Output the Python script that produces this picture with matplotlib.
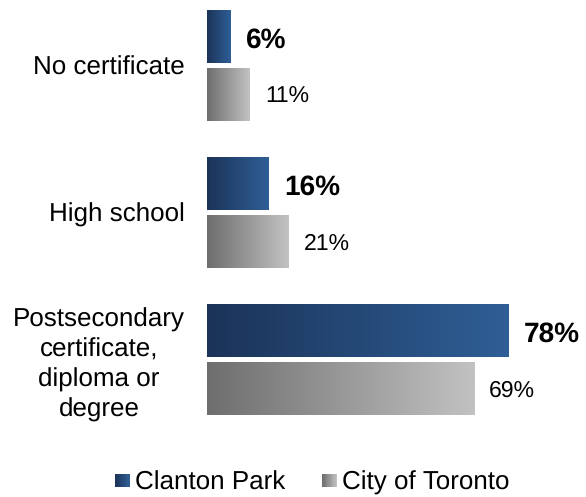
import numpy as np
import matplotlib
matplotlib.use("Agg")
import matplotlib.pyplot as plt
from matplotlib.colors import LinearSegmentedColormap
from matplotlib.legend_handler import HandlerBase
from matplotlib.patches import Rectangle, Patch

plt.rcParams['font.family'] = ['Liberation Sans', 'DejaVu Sans']
plt.rcParams['text.hinting'] = 'no_hinting'
plt.rcParams['text.hinting_factor'] = 1

categories = ["No certificate", "High school",
              "Postsecondary\ncertificate,\ndiploma or\ndegree"]
clanton = [6, 16, 78]
toronto = [11, 21, 69]
series_names = ["Clanton Park", "City of Toronto"]

blue_cols = ["#1b3358", "#2f5f96"]
gray_cols = ["#6e6e6e", "#c2c2c2"]
cmap_blue = LinearSegmentedColormap.from_list("b", blue_cols)
cmap_gray = LinearSegmentedColormap.from_list("g", gray_cols)

W, H = 586, 497
fig = plt.figure(figsize=(W / 100, H / 100), dpi=100)
ax = fig.add_axes([207 / W, (497 - 433) / H, 379 / W, 433 / H])

y = np.arange(len(categories))
off = 0.197
bh = 0.36
bars_b = ax.barh(y - off, clanton, height=bh, color=blue_cols[1], edgecolor='none')
bars_g = ax.barh(y + off, toronto, height=bh, color=gray_cols[1], edgecolor='none')

grad = np.linspace(0, 1, 256).reshape(1, -1)
for bars, cm in ((bars_b, cmap_blue), (bars_g, cmap_gray)):
    for r in bars:
        x0, y0, w, h = r.get_x(), r.get_y(), r.get_width(), r.get_height()
        ax.imshow(grad, extent=[x0, x0 + w, y0, y0 + h], aspect='auto',
                  cmap=cm, zorder=3, interpolation='bilinear')

for r, v in zip(bars_b, clanton):
    ax.annotate(f"{v}%", (r.get_width(), r.get_y() + r.get_height() / 2),
                xytext=(11, -2.6), textcoords='offset points', va='center',
                ha='left', fontsize=20, fontweight='bold', color='black')
for r, v in zip(bars_g, toronto):
    ax.annotate(f"{v}%", (r.get_width(), r.get_y() + r.get_height() / 2),
                xytext=(11, -1.8), textcoords='offset points', va='center',
                ha='left', fontsize=16.5, color='black')

ax.set_xlim(0, 379 / 3.87)
ax.set_ylim(2.5, -0.4456)
ax.set_yticks(y)
ax.set_yticklabels(categories, fontsize=18.7, ma='center', linespacing=1.29)
ax.tick_params(axis='y', length=0, pad=15.8)
ax.set_xticks([])
for s in ax.spines.values():
    s.set_visible(False)


class GradHandler(HandlerBase):
    def __init__(self, cols):
        super().__init__()
        self.cols = cols

    def create_artists(self, legend, orig_handle, xdescent, ydescent,
                       width, height, fontsize, trans):
        cm = LinearSegmentedColormap.from_list("h", self.cols)
        n = 12
        sw, sh = 10.8, 9.4
        x0 = -xdescent + width - sw
        yc = -ydescent + height / 2
        arts = []
        for i in range(n):
            arts.append(Rectangle((x0 + i * sw / n, yc - sh / 2), sw / n + 0.05, sh,
                                  facecolor=cm(i / (n - 1)), edgecolor='none',
                                  transform=trans))
        return arts


hb = Patch(label=series_names[0])
hg = Patch(label=series_names[1])
fig.legend([hb, hg], series_names, loc='center',
           bbox_to_anchor=(312 / W, 1 - 483 / H), bbox_transform=fig.transFigure,
           ncol=2, frameon=False, fontsize=18.7, handlelength=0.6,
           handletextpad=0.2, columnspacing=1.4,
           handler_map={hb: GradHandler(blue_cols), hg: GradHandler(gray_cols)})

fig.savefig("out.png", dpi=100)
